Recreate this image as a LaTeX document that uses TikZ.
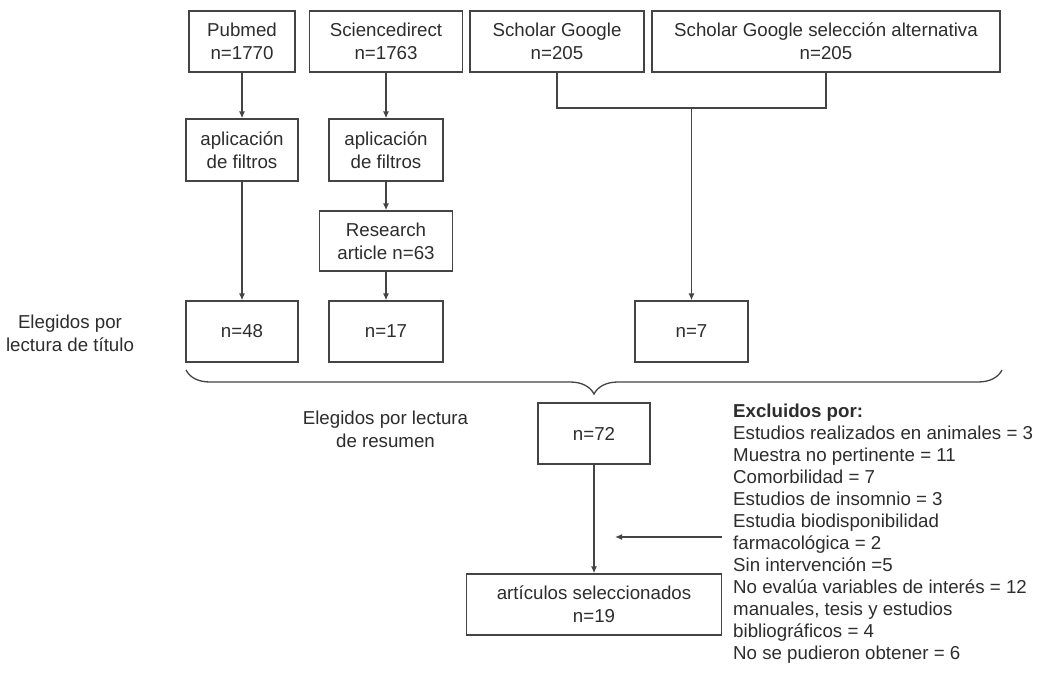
\documentclass[tikz,border=0pt]{standalone}
\usepackage{fontspec}
\setmainfont{Liberation Sans}
\usetikzlibrary{arrows.meta,decorations.pathreplacing,calc}
\definecolor{linec}{RGB}{68,68,68}
\definecolor{textc}{RGB}{45,45,45}
\newcommand{\boxfnt}{\fontsize{18.7}{23}\selectfont}
\newcommand{\listfnt}{\fontsize{18.7}{22}\selectfont}
\begin{document}
\begin{tikzpicture}[x=1pt,y=-1pt,
  box/.style={draw=linec, line width=1.3pt, align=center, inner sep=0pt, text=textc, font=\boxfnt, fill=white},
  lbl/.style={align=center, inner sep=0pt, text=textc, font=\boxfnt},
  arr/.style={draw=linec, line width=1.3pt, -{Latex[length=7pt,width=6pt]}},
  ln/.style={draw=linec, line width=1.3pt}]
\useasboundingbox[fill=white] (0,0) rectangle (1039,680);

\node[box, minimum width=106pt, minimum height=61pt] (pub) at (242,41.5) {Pubmed\\n=1770};
\node[box, minimum width=153pt, minimum height=61pt] (sci) at (386,41.5) {Sciencedirect\\n=1763};
\node[box, minimum width=174pt, minimum height=61pt] (sg) at (557,41.5) {Scholar Google\\n=205};
\node[box, minimum width=348pt, minimum height=61pt] (sga) at (826,41.5) {Scholar Google selección alternativa\\n=205};
\node[box, minimum width=112pt, minimum height=62pt] (f1) at (242,150) {aplicación\\de filtros};
\node[box, minimum width=114pt, minimum height=62pt] (f2) at (386,150) {aplicación\\de filtros};
\node[box, minimum width=133pt, minimum height=60pt] (ra) at (386,241) {Research\\article n=63};
\node[box, minimum width=112pt, minimum height=61pt] (n48) at (242,331.5) {n=48};
\node[box, minimum width=114pt, minimum height=61pt] (n17) at (386,331.5) {n=17};
\node[box, minimum width=113pt, minimum height=61pt] (n7) at (691.5,331.5) {n=7};
\node[box, minimum width=112pt, minimum height=61pt] (n72) at (594,433.5) {n=72};
\node[box, minimum width=255pt, minimum height=61pt] (art) at (594,604.5) {artículos seleccionados\\n=19};

\node[lbl] (tit) at (70,333) {Elegidos por\\lectura de título};
\node[lbl] (res) at (385.5,429.5) {Elegidos por lectura\\de resumen};

\node[anchor=north west, inner sep=0pt, align=left, text=textc, font=\listfnt] (excl) at (733,404)
 {\textbf{Excluidos por:}\\
  Estudios realizados en animales = 3\\
  Muestra no pertinente = 11\\
  Comorbilidad = 7\\
  Estudios de insomnio = 3\\
  Estudia biodisponibilidad\\
  farmacológica = 2\\
  Sin intervención =5\\
  No evalúa variables de interés = 12\\
  manuales, tesis y estudios\\
  bibliográficos = 4\\
  No se pudieron obtener = 6};

\draw[arr] (pub) -- (f1);
\draw[arr] (f1) -- (n48);
\draw[arr] (sci) -- (f2);
\draw[arr] (f2) -- (ra);
\draw[arr] (ra) -- (n17);

\coordinate (jy) at (0,108);
\coordinate (jm) at (691.5,108);
\draw[ln] (sg.south) -- (sg.south |- jy) -- (sga.south |- jy) -- (sga.south);
\draw[arr] (jm) -- (n7.north);

\coordinate (bl) at (186,370);
\coordinate (br) at (1002,370);
\draw[ln, decorate, decoration={brace, amplitude=24pt}] (br) -- (bl);

\draw[arr] (n72) -- (art);
\coordinate (xa) at (722,537);
\coordinate (xb) at (615,537);
\draw[arr] (xa) -- (xb);
\end{tikzpicture}
\end{document}
